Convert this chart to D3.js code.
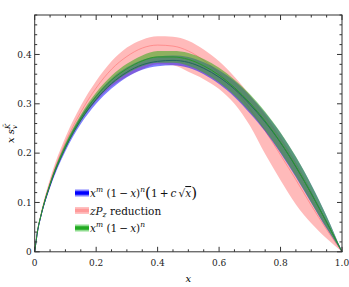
<!DOCTYPE html>
<html><head><meta charset="utf-8">
<script src="https://cdn.jsdelivr.net/npm/d3@7"></script>
<style>body{margin:0;background:#fff}svg{display:block}</style>
</head><body>
<script>
// ---- data ----
const xs       = [0, .01, .02, .05, .1, .15, .2, .25, .3, .35, .4, .45, .5, .55, .6, .65, .7, .75, .8, .85, .9, .95, 1];
const greenMid = [0, .045, .073, .137, .214, .271, .315, .348, .371, .387, .395, .395, .390, .377, .358, .333, .302, .265, .222, .173, .118, .060, 0];
const greenLo  = [0, .043, .070, .133, .208, .264, .307, .339, .361, .376, .383, .383, .377, .363, .343, .317, .284, .246, .202, .153, .100, .048, 0];
const greenHi  = [0, .047, .076, .141, .220, .278, .323, .357, .381, .398, .407, .407, .403, .391, .373, .349, .320, .284, .242, .193, .136, .072, 0];
const blueMid  = [0, .044, .072, .135, .211, .267, .309, .341, .364, .379, .386, .388, .384, .372, .354, .330, .299, .263, .221, .172, .118, .060, 0];
const blueLo   = [0, .042, .069, .130, .204, .259, .300, .331, .354, .369, .376, .378, .373, .360, .340, .314, .281, .244, .200, .151, .099, .047, 0];
const blueHi   = [0, .046, .075, .140, .218, .275, .318, .351, .374, .389, .396, .398, .395, .384, .368, .346, .317, .282, .241, .192, .136, .072, 0];
const pinkMid  = [0, .045, .074, .140, .222, .283, .332, .370, .396, .413, .419, .417, .407, .388, .362, .330, .290, .245, .196, .146, .094, .045, 0];
const pinkLo   = [0, .043, .070, .132, .210, .265, .305, .335, .355, .370, .380, .378, .365, .350, .330, .300, .256, .198, .145, .096, .058, .027, 0];
const pinkHi   = [0, .047, .078, .148, .232, .296, .346, .386, .414, .430, .437, .436, .428, .410, .386, .355, .318, .278, .232, .182, .124, .062, 0];
const xTicks = [0, 0.2, 0.4, 0.6, 0.8, 1.0];
const xTickLabels = ["0", "0.2", "0.4", "0.6", "0.8", "1.0"];
const yTicks = [0, 0.1, 0.2, 0.3, 0.4];
const yTickLabels = ["0", "0.1", "0.2", "0.3", "0.4"];

const W = 349, H = 287;
const L = 34.7, R = 342, T = 15, B = 251.8;
const svg = d3.select("body").append("svg").attr("width", W).attr("height", H);
const x = d3.scaleLinear().domain([0, 1]).range([L, R]);
const y = d3.scaleLinear().domain([0, 0.48]).range([B, T]);
const font = "DejaVu Serif";

const idx = d3.range(xs.length);
function band(lo, hi) {
  return d3.area().x(i => x(xs[i])).y0(i => y(lo[i])).y1(i => y(hi[i])).curve(d3.curveMonotoneX)(idx);
}
function mid(m) {
  return d3.line().x(i => x(xs[i])).y(i => y(m[i])).curve(d3.curveMonotoneX)(idx);
}
const g = svg.append("g");
g.append("path").attr("d", band(pinkLo, pinkHi)).attr("fill", "#ff0000").attr("fill-opacity", 0.27);
g.append("path").attr("d", mid(pinkMid)).attr("fill", "none").attr("stroke", "#ff7070").attr("stroke-opacity", 0.6).attr("stroke-width", 1);
g.append("path").attr("d", band(blueLo, blueHi)).attr("fill", "#0000ff").attr("fill-opacity", 0.5);
g.append("path").attr("d", mid(blueMid)).attr("fill", "none").attr("stroke", "#0000c0").attr("stroke-width", 1);
g.append("path").attr("d", band(greenLo, greenHi)).attr("fill", "rgb(60,170,30)").attr("fill-opacity", 0.58);
g.append("path").attr("d", mid(greenMid)).attr("fill", "none").attr("stroke", "#2a9a2a").attr("stroke-width", 1);

// frame
const ax = svg.append("g").attr("stroke", "#333").attr("fill", "none");
ax.append("rect").attr("x", L).attr("y", T).attr("width", R - L).attr("height", B - T).attr("stroke-width", 1);

const xMinor = d3.range(0, 1.0001, 0.05);
const yMinor = d3.range(0, 0.4801, 0.02);
xMinor.forEach(v => {
  const major = xTicks.some(t => Math.abs(t - v) < 1e-6);
  const len = major ? 5 : 2.5;
  ax.append("line").attr("x1", x(v)).attr("x2", x(v)).attr("y1", B).attr("y2", B - len);
  ax.append("line").attr("x1", x(v)).attr("x2", x(v)).attr("y1", T).attr("y2", T + len);
});
yMinor.forEach(v => {
  const major = yTicks.some(t => Math.abs(t - v) < 1e-6);
  const len = major ? 5 : 2.5;
  ax.append("line").attr("y1", y(v)).attr("y2", y(v)).attr("x1", L).attr("x2", L + len);
  ax.append("line").attr("y1", y(v)).attr("y2", y(v)).attr("x1", R).attr("x2", R - len);
});

const tl = svg.append("g").attr("font-family", font).attr("font-size", 9).attr("fill", "#222");
xTicks.forEach((v, i) => tl.append("text").attr("x", x(v)).attr("y", B + 14).attr("text-anchor", "middle").text(xTickLabels[i]));
yTicks.forEach((v, i) => tl.append("text").attr("x", L - 3).attr("y", y(v) + 3.2).attr("text-anchor", "end").text(yTickLabels[i]));

// axis titles
svg.append("text").attr("x", (L + R) / 2).attr("y", 282).attr("text-anchor", "middle")
  .attr("font-family", font).attr("font-style", "italic").attr("font-size", 10).text("x");
const yl = svg.append("text").attr("transform", `translate(14,${(T + B) / 2}) rotate(-90)`)
  .attr("text-anchor", "middle").attr("font-family", font).attr("font-style", "italic").attr("font-size", 10);
yl.append("tspan").text("x s");
yl.append("tspan").attr("font-size", 7).attr("dy", 2.5).text("v");
yl.append("tspan").attr("font-size", 7).attr("dx", -4).attr("dy", -7).text("K̄");

// legend
const leg = svg.append("g").attr("font-family", font).attr("font-size", 10.5).attr("fill", "#111");
const rows = [
  {c: "#0000ff", light: "#8080ff", yy: 193},
  {c: "#ff9a9a", light: "#ffc0c0", yy: 210.5},
  {c: "#22aa22", light: "#8fdc8f", yy: 228}
];
rows.forEach(r => {
  leg.append("line").attr("x1", 75).attr("x2", 89).attr("y1", r.yy).attr("y2", r.yy).attr("stroke", r.light).attr("stroke-width", 7);
  leg.append("line").attr("x1", 75).attr("x2", 89).attr("y1", r.yy).attr("y2", r.yy).attr("stroke", r.c).attr("stroke-width", 3.5);
});
// row 1
const t1 = leg.append("text").attr("x", 90).attr("y", rows[0].yy + 4);
t1.append("tspan").attr("font-style", "italic").text("x");
t1.append("tspan").attr("font-style", "italic").attr("font-size", 7.5).attr("dy", -5).text("m");
t1.append("tspan").attr("dy", 5).text(" (1\u2009−\u2009");
t1.append("tspan").attr("font-style", "italic").text("x");
t1.append("tspan").text(")");
t1.append("tspan").attr("font-style", "italic").attr("font-size", 7.5).attr("dy", -5).text("n");
t1.append("tspan").attr("dy", 6).attr("font-size", 15).text("(");
t1.append("tspan").attr("dy", -1).text("1\u2009+\u2009");
t1.append("tspan").attr("font-style", "italic").text("c");
t1.append("tspan").text("\u2009√");
t1.append("tspan").attr("font-style", "italic").attr("text-decoration", "overline").text("x");
t1.append("tspan").attr("dy", 1).attr("font-size", 15).text(")");
// row 2
const t2 = leg.append("text").attr("x", 90).attr("y", rows[1].yy + 4);
t2.append("tspan").attr("font-style", "italic").text("zP");
t2.append("tspan").attr("font-style", "italic").attr("font-size", 7.5).attr("dy", 2.5).text("z");
t2.append("tspan").attr("dy", -2.5).text(" reduction");
// row 3
const t3 = leg.append("text").attr("x", 90).attr("y", rows[2].yy + 4);
t3.append("tspan").attr("font-style", "italic").text("x");
t3.append("tspan").attr("font-style", "italic").attr("font-size", 7.5).attr("dy", -5).text("m");
t3.append("tspan").attr("dy", 5).text(" (1\u2009−\u2009");
t3.append("tspan").attr("font-style", "italic").text("x");
t3.append("tspan").text(")");
t3.append("tspan").attr("font-style", "italic").attr("font-size", 7.5).attr("dy", -5).text("n");
</script>
</body></html>
